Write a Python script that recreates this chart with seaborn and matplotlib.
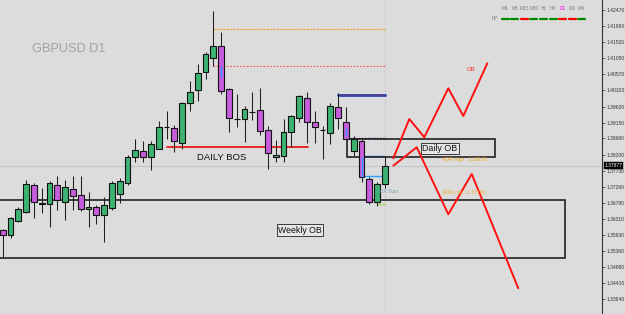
import numpy as np
import pandas as pd
import matplotlib
matplotlib.use("Agg")
import matplotlib.pyplot as plt
from matplotlib.patches import Rectangle
from matplotlib.lines import Line2D
import seaborn as sns

# ---------------- data (prices) ----------------
opens = [1.35980, 1.35833, 1.36254, 1.36520, 1.37308, 1.36762, 1.36738, 1.37308, 1.36815, 1.37181,
         1.37013, 1.36591, 1.36667, 1.36408, 1.36638, 1.37042, 1.37358, 1.38142, 1.38311, 1.38142,
         1.38384, 1.39005, 1.38980, 1.38538, 1.39735, 1.40110, 1.40632, 1.41045, 1.41408, 1.40131,
         1.39250, 1.39246, 1.39452, 1.39520, 1.38930, 1.38125, 1.38172, 1.38880, 1.39275, 1.39883,
         1.39157, 1.38930, 1.38833, 1.39600, 1.39175, 1.38319, 1.38614, 1.37485, 1.36797, 1.37328]
highs = [1.36010, 1.36364, 1.36644, 1.37455, 1.37358, 1.37210, 1.37434, 1.37573, 1.37455, 1.37573,
         1.37573, 1.37110, 1.36718, 1.36962, 1.37434, 1.37505, 1.38193, 1.38656, 1.38591, 1.38620,
         1.39196, 1.39499, 1.39092, 1.39756, 1.40376, 1.40877, 1.41240, 1.42440, 1.41830, 1.40160,
         1.39983, 1.39638, 1.40060, 1.40160, 1.39048, 1.38635, 1.39246, 1.39373, 1.39963, 1.40042,
         1.39491, 1.39057, 1.39718, 1.40013, 1.39617, 1.38753, 1.38673, 1.37552, 1.37405, 1.38134]
lows = [1.35154, 1.35744, 1.36216, 1.36482, 1.36325, 1.36473, 1.36077, 1.36570, 1.36275, 1.36570,
        1.36549, 1.36077, 1.36157, 1.35635, 1.36570, 1.36785, 1.37308, 1.37995, 1.37995, 1.37750,
        1.38378, 1.38665, 1.38290, 1.38370, 1.39499, 1.39794, 1.40435, 1.40818, 1.39992, 1.38880,
        1.39027, 1.38585, 1.39225, 1.38783, 1.37771, 1.37995, 1.37995, 1.38437, 1.39175, 1.38538,
        1.38538, 1.38075, 1.38517, 1.38951, 1.38656, 1.38163, 1.37405, 1.36747, 1.36688, 1.37219]
closes = [1.35833, 1.36334, 1.36591, 1.37328, 1.36815, 1.36747, 1.37358, 1.36865, 1.37240, 1.36983,
          1.36608, 1.36659, 1.36408, 1.36703, 1.37375, 1.37411, 1.38125, 1.38340, 1.38142, 1.38511,
          1.39010, 1.39012, 1.38614, 1.39718, 1.40042, 1.40620, 1.41163, 1.41408, 1.40089, 1.39275,
          1.39255, 1.39541, 1.39455, 1.38909, 1.38243, 1.38193, 1.38862, 1.39343, 1.39933, 1.39175,
          1.39010, 1.38928, 1.39638, 1.39275, 1.38656, 1.38665, 1.37535, 1.36797, 1.37328, 1.37877]

# indicator marks inside some bodies (bar index, top, bottom)
blue_marks = [(28, 1.40827, 1.40485), (44, 1.38980, 1.38753), (46, 1.38142, 1.37552)]

tick_prices = [1.42470, 1.41990, 1.41520, 1.41050, 1.40570, 1.40100, 1.39620, 1.39150, 1.38680,
               1.38200, 1.37730, 1.37260, 1.36780, 1.36310, 1.35830, 1.35360, 1.34880, 1.34410,
               1.33940]
current_price = 1.37877

# levels: (start bar, end bar, price)
orange_level = (27, 49, 1.41901)
red_dot_level = (27, 49, 1.40818)
blue_level = (43, 49, 1.39967)
purple_level = (44, 49, 1.38685)
bos_level = (21, 39.1, 1.38437)
adr_high_line = (46, 49, 1.38169)
adr_low_line = (46.4, 49, 1.37573)
lime_level = (48.1, 49.05, 1.36738)

weekly_ob = (-1.0, 72.1, 1.35145, 1.36856)  # x0, x1, bottom, top
daily_ob = (44.1, 63.1, 1.38142, 1.38659)

zig_up_x = [50.08, 52.13, 54.05, 57.13, 59.05, 62.13]
zig_up_y = [1.38095, 1.39255, 1.38715, 1.40160, 1.39343, 1.40898]
zig_dn_x = [50.08, 53.08, 57.13, 60.13, 66.10]
zig_dn_y = [1.37877, 1.38420, 1.36443, 1.37632, 1.34260]

timeframes = ["M1", "M5", "M15", "M30", "H1", "H4", "D1", "W1", "MN"]
tf_trend = ["up", "up", "down", "up", "up", "up", "down", "down", "up"]

adr_high_text = "ADR High : 1.38163"
adr_low_text = "ADR Low : 1.37193"

# ---------------- style ----------------
BG = "#dcdcdc"
sns.set_style("white", {"axes.facecolor": BG, "figure.facecolor": BG})
plt.rcParams["font.family"] = ["Liberation Sans", "DejaVu Sans"]

W, H = 625, 314
fig = plt.figure(figsize=(W / 100, H / 100), dpi=100)
AX_R = 602
ax = fig.add_axes([0, 0, AX_R / W, 1])
ax.set_facecolor(BG)

x0_px, step_px = 2.7, 7.8
ax.set_xlim(-x0_px / step_px, (AX_R - x0_px) / step_px)
ax.set_ylim(1.33502, 1.42765)

df = pd.DataFrame({"o": opens, "h": highs, "l": lows, "c": closes})
df["i"] = np.arange(len(df))
GREEN, PURPLE = "#3cb371", "#c65ddc"

# current price line & vertical separator
ax.axhline(current_price, color="#c4c4c4", lw=0.8, zorder=0.5)
ax.axvline(49, color="#b0b0b0", lw=0.6, ls=(0, (1, 2)), zorder=0.5)

# wicks
ax.vlines(df["i"], df["l"], df["h"], color="#202020", lw=0.75, zorder=2)
# bodies
bott = np.minimum(df["o"], df["c"])
hgt = np.maximum(np.abs(df["c"] - df["o"]), 0.00002)
cols = [GREEN if c > o + 0.00003 else (PURPLE if o > c + 0.00003 else "#303030")
        for o, c in zip(df["o"], df["c"])]
ax.bar(df["i"], hgt, bottom=bott, width=0.72, color=cols, edgecolor="#111111",
       linewidth=0.8, zorder=3)
for bi, t, b in blue_marks:
    ax.vlines(bi, b, t, color="#2d9cff", lw=1.0, zorder=4)

# levels
def hline(level, **kw):
    s, e, p = level
    ax.plot([s, e], [p, p], **kw)

hline(orange_level, color="#f0a020", lw=0.8, ls=(0, (2, 1)), zorder=1)
hline(red_dot_level, color="#ff5050", lw=0.8, ls=(0, (1.5, 1.5)), zorder=1)
hline(blue_level, color="#2440b0", lw=2.0, zorder=1)
hline(blue_level, color="#e03030", lw=0.6, ls=(0, (1, 2)), zorder=1.1)
hline(purple_level, color="#5a3a90", lw=1.0, ls=(0, (1.2, 1)), zorder=1)
hline(bos_level, color="#e81818", lw=1.3, zorder=1)
hline(adr_high_line, color="#2d9cff", lw=1.0, zorder=1)
hline(adr_low_line, color="#2d9cff", lw=1.0, zorder=1)
hline(lime_level, color="#9ccc20", lw=1.0, ls=(0, (2, 1)), zorder=1)

# OB boxes
wx0, wx1, wb, wt = weekly_ob
ax.add_patch(Rectangle((wx0, wb), wx1 - wx0, wt - wb, fill=False, ec="#111111", lw=1.1, zorder=1.5))
dx0, dx1, db, dt = daily_ob
ax.add_patch(Rectangle((dx0, db), dx1 - dx0, dt - db, fill=False, ec="#111111", lw=1.1, zorder=1.5))

# zigzags
sns.lineplot(x=zig_up_x, y=zig_up_y, sort=False, estimator=None, color="#ff1010", lw=1.4, ax=ax, zorder=5)
sns.lineplot(x=zig_dn_x, y=zig_dn_y, sort=False, estimator=None, color="#ff1010", lw=1.4, ax=ax, zorder=5)

# texts
ax.text(24.9, 1.38125, "DAILY BOS", fontsize=6.8, color="#111111", ha="left", va="center", zorder=6)
ax.text(56.06, 1.38390, "Daily OB", fontsize=6.4, color="#111111", ha="center", va="center", zorder=6,
        bbox=dict(boxstyle="square,pad=0.12", fc="#e6e6e6", ec="#222222", lw=0.6))
ax.text(38.1, 1.35980, "Weekly OB", fontsize=6.3, color="#111111", ha="center", va="center", zorder=6,
        bbox=dict(boxstyle="square,pad=0.12", fc="#e6e6e6", ec="#222222", lw=0.6))
ax.text(56.3, 1.38074, adr_high_text, fontsize=3.6, color="#f5a623", ha="left", va="center", zorder=6)
ax.text(56.3, 1.37092, adr_low_text, fontsize=3.6, color="#f5a623", ha="left", va="center", zorder=6)
ax.text(48.0, 1.37130, "ADR Start", fontsize=3.3, color="#7aa0b0", ha="left", va="center", zorder=6)
ax.text(60.0, 1.40721, "OB", fontsize=4.3, color="#ff3030", ha="center", va="center", zorder=6)
ax.text(32.3 / AX_R, 1 - 49.3 / H, "GBPUSD D1", transform=ax.transAxes, fontsize=9.2,
        color="#a3a3a3", ha="left", va="center")

# right price axis
ax.yaxis.tick_right()
ax.set_yticks(tick_prices)
ax.set_yticklabels([f"{p:.5f}" for p in tick_prices])
ax.tick_params(axis="y", labelsize=3.6, length=2, width=0.5, color="#333333",
               labelcolor="#333333", pad=1.5, right=True, left=False)
ax.set_xticks([])
for s in ["top", "left", "bottom"]:
    ax.spines[s].set_visible(False)
ax.spines["right"].set_color("#333333")
ax.spines["right"].set_linewidth(0.8)
ytr = ax.get_yaxis_transform()
ax.text(1.0 + 2.5 / AX_R, current_price, f"{current_price:.5f}", transform=ytr, fontsize=3.6,
        color="white", ha="left", va="center", clip_on=False,
        bbox=dict(boxstyle="square,pad=0.15", fc="black", ec="black", lw=0.3), zorder=10)

# timeframe trend header (figure coords)
for k, (tf, tr) in enumerate(zip(timeframes, tf_trend)):
    cx = 505 + 9.6 * k
    fig.text(cx / W, 1 - 8.3 / H, tf, fontsize=3.4, ha="center", va="center",
             color="#ff00ff" if tf == "D1" else "#808080")
    fig.add_artist(Line2D([(cx - 3.5) / W, (cx + 3.5) / W], [1 - 19 / H, 1 - 19 / H],
                          color="#008a00" if tr == "up" else "#ff0000", lw=1.6,
                          transform=fig.transFigure))
fig.text(494.5 / W, 1 - 19 / H, "H7", fontsize=3.4, ha="center", va="center", color="#707070")

fig.savefig("out.png", dpi=100, facecolor=BG)
